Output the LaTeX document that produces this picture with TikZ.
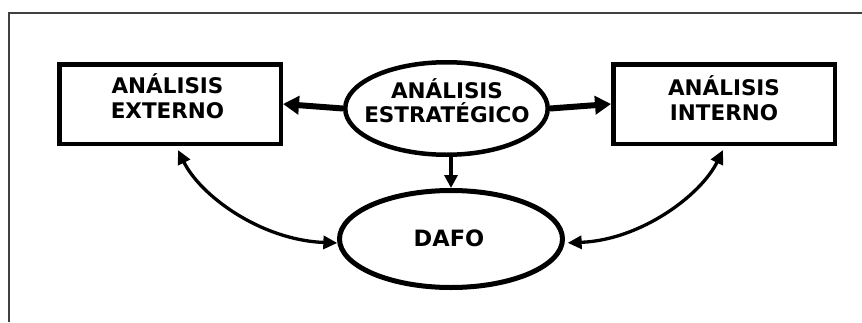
\documentclass[tikz,border=0pt]{standalone}
\usepackage{fontspec}
\setmainfont{DejaVu Sans}
\usetikzlibrary{arrows.meta,shapes.geometric}

\definecolor{framegray}{HTML}{404040}

\tikzset{
  boxnode/.style={draw=black, line width=4.5pt, rectangle, inner sep=0pt,
    minimum width=221.5pt, minimum height=79.5pt},
  ovalnode/.style={draw=black, line width=4.5pt, ellipse, inner sep=0pt},
  lbl/.style={font=\bfseries\fontsize{21.5}{24}\selectfont, inner sep=0pt, anchor=base},
  bigarrow/.style={line width=6pt, -{Triangle[length=16pt,width=18pt]}},
  downarrow/.style={line width=3.3pt, -{Triangle[length=13pt,width=13pt]}},
  linkarrow/.style={line width=3.3pt,
    {Triangle[length=14pt,width=13pt]}-{Triangle[length=14pt,width=13pt]}},
}

\begin{document}
\begin{tikzpicture}[x=1pt,y=-1pt]
  \useasboundingbox (0,0) rectangle (862,322);

  % page frame (top and left edges visible)
  \draw[framegray, line width=2pt] (9,322) -- (9,13) -- (862,13);

  % boxes and ovals
  \node[boxnode] (ext) at (170,104) {};
  \node[boxnode] (int) at (724,104) {};
  \node[ovalnode, minimum width=202.5pt, minimum height=92.5pt] (strat) at (446.5,108.5) {};
  \node[ovalnode, line width=5pt, minimum width=223pt, minimum height=97pt] (dafo) at (451,239) {};

  % labels
  \node[lbl] (extA) at (167.5,93) {ANÁLISIS};
  \node[lbl] (extB) at (167.5,118) {EXTERNO};
  \node[lbl] (intA) at (724,95) {ANÁLISIS};
  \node[lbl] (intB) at (724,120) {INTERNO};
  \node[lbl] (stratA) at (447,98) {ANÁLISIS};
  \node[lbl] (stratB) at (447,122) {ESTRATÉGICO};
  \node[lbl, font=\bfseries\fontsize{22.5}{26}\selectfont, anchor=center] (dafoT) at (449,238.5) {DAFO};

  % connectors
  \draw[bigarrow] (strat.west) -- (ext.east);
  \draw[bigarrow] (strat.east) -- (int.west);
  \draw[downarrow] (dafo.north |- strat.south) -- (dafo.north);

  \coordinate (extfoot) at (178,150);
  \coordinate (intfoot) at (723,150);
  \draw[linkarrow] (extfoot) .. controls (200,195) and (260,240) .. (dafo.182);
  \draw[linkarrow, shorten >=3pt] (intfoot) .. controls (701,195) and (641,240) .. (dafo.358);
\end{tikzpicture}
\end{document}
